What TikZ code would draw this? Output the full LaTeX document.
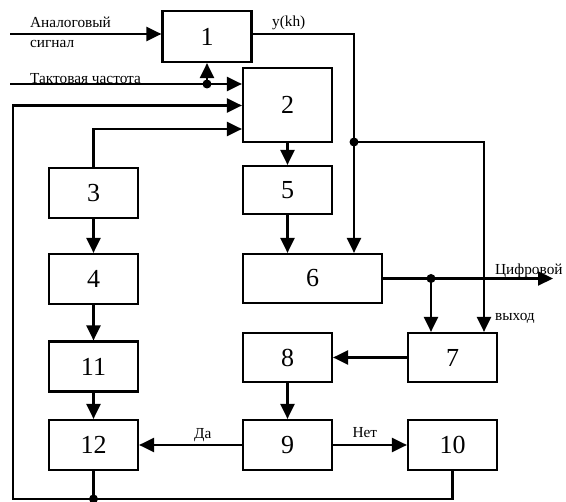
\documentclass[tikz,border=0pt]{standalone}
\usepackage{fontspec}
\setmainfont{Liberation Serif}
\usetikzlibrary{arrows.meta}
\begin{document}
\begin{tikzpicture}[x=1pt,y=-1pt,
  box/.style={draw,line width=2.2pt,minimum width=89pt,minimum height=50pt,inner sep=0pt,
    font=\fontsize{26}{30}\selectfont},
  conn/.style={line width=2.2pt},
  arr/.style={-{Triangle[length=15pt,width=14pt]}},
  lbl/.style={inner sep=0pt,font=\fontsize{15.3}{17}\selectfont},
  junction/.style={fill=black}]
\useasboundingbox (0,0) rectangle (566,502);

% blocks
\node[box,minimum height=51pt] (b1) at (207,36.5) {1};
\node[box,minimum height=74pt] (b2) at (287.5,105) {2};
\node[box] (b3) at (93.5,193) {3};
\node[box] (b4) at (93.5,279) {4};
\node[box] (b11) at (93.5,366.5) {11};
\node[box] (b12) at (93.5,445) {12};
\node[box,minimum height=48pt] (b5) at (287.5,190) {5};
\node[box,minimum width=139pt,minimum height=49pt] (b6) at (312.5,278.5) {6};
\node[box,minimum height=49pt] (b8) at (287.5,357.5) {8};
\node[box] (b9) at (287.5,445) {9};
\node[box,minimum height=49pt] (b7) at (452.5,357.5) {7};
\node[box] (b10) at (452.5,445) {10};

% free ends and bends
\coordinate (ain) at (10,34);
\coordinate (clk) at (10,84);
\coordinate (clkdot) at (207,84);
\coordinate (ykh) at (354,34);
\coordinate (ykhdot) at (354,142);
\coordinate (yk7) at (484,142);
\coordinate (dout) at (553,278.5);
\coordinate (d6) at (431,278.5);
\coordinate (c3) at (93.5,129);
\coordinate (fb) at (13,499);
\coordinate (fbt) at (13,105.5);

% inputs
\draw[conn,arr] (ain) -- (ain -| b1.west);
\node[lbl,anchor=base west] (tin1) at (30,28) {Аналоговый};
\node[lbl,anchor=base west] (tin2) at (30,48) {сигнал};
\draw[conn,arr] (clk) -- (clk -| b2.west);
\node[lbl,anchor=base west] (tclk) at (30,84) {Тактовая частота};
\draw[conn,arr] (clkdot) -- (clkdot |- b1.south);
\fill[junction] (clkdot) circle (4.5pt);

% sampled signal y(kh)
\draw[conn] (ain -| b1.east) -- (ykh) -- (ykhdot);
\node[lbl,anchor=base west] (tykh) at (272,27) {y(kh)};
\draw[conn,arr] (ykhdot) -- (ykhdot |- b6.north);
\draw[conn,arr] (ykhdot) -- (yk7) -- (yk7 |- b7.north);
\fill[junction] (ykhdot) circle (4.5pt);

% main chain
\draw[conn,arr] (b2.south) -- (b5.north);
\draw[conn,arr] (b5.south) -- (b5.south |- b6.north);
\draw[conn,arr] (b6.east) -- (dout);
\node[lbl,anchor=base west] (tout1) at (495,275) {Цифровой};
\node[lbl,anchor=base west] (tout2) at (495,321) {выход};
\draw[conn,arr] (d6) -- (d6 |- b7.north);
\fill[junction] (d6) circle (4.5pt);
\draw[conn,arr] (b7.west) -- (b8.east);
\draw[conn,arr] (b8.south) -- (b9.north);
\draw[conn,arr] (b9.west) -- (b12.east)
  node[lbl,pos=0.38,anchor=base,yshift=6pt] {Да};
\draw[conn,arr] (b9.east) -- (b10.west)
  node[lbl,pos=0.43,anchor=base,yshift=7pt] {Нет};

% left chain
\draw[conn,arr] (b3.north) -- (c3) -- (c3 -| b2.west);
\draw[conn,arr] (b3.south) -- (b4.north);
\draw[conn,arr] (b4.south) -- (b11.north);
\draw[conn,arr] (b11.south) -- (b12.north);

% feedback loop
\draw[conn,arr] (b10.south) -- (b10.south |- fb) -- (fb) -- (fbt) -- (fbt -| b2.west);
\draw[conn] (b12.south) -- (b12.south |- fb);
\fill[junction] (b12.south |- fb) circle (4.5pt);
\end{tikzpicture}
\end{document}
